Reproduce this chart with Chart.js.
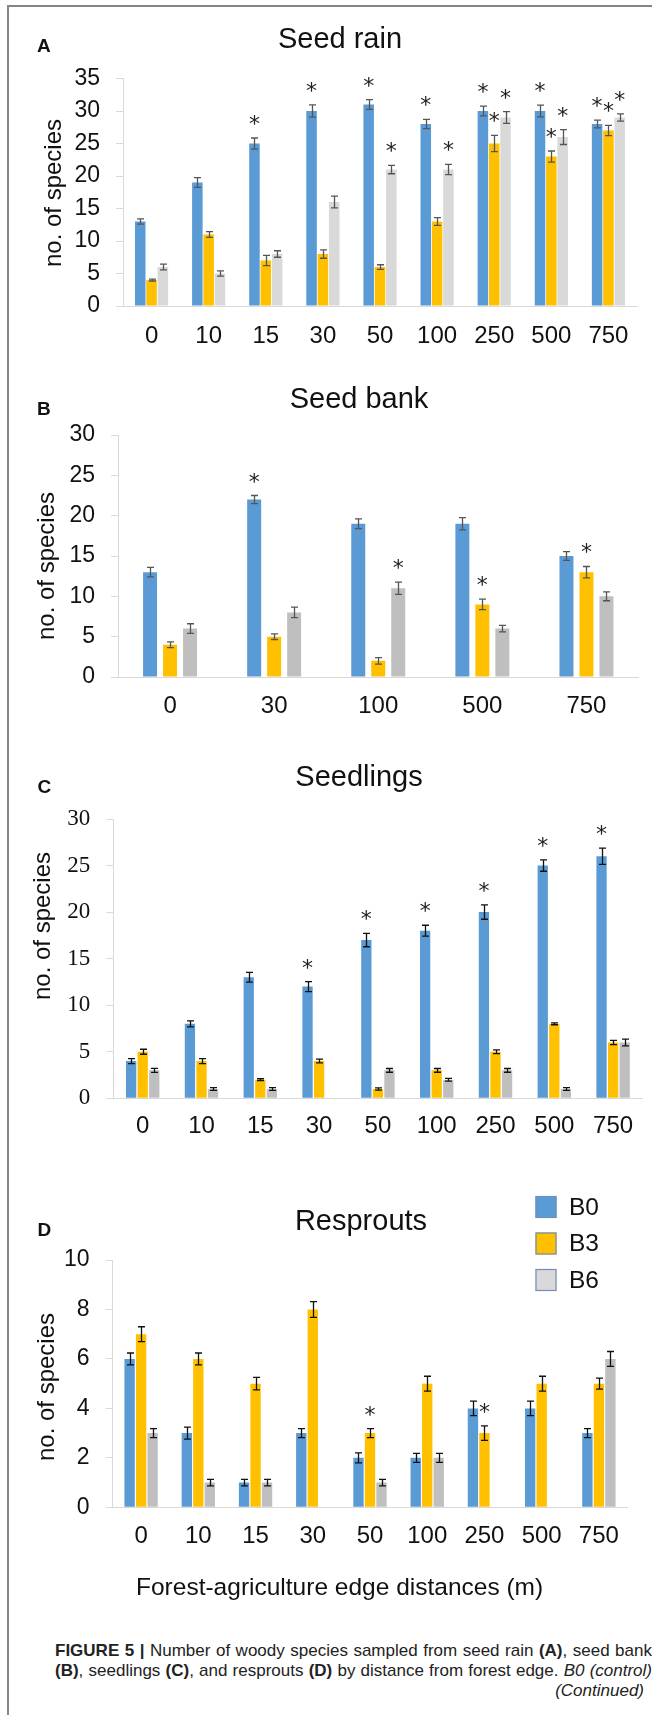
<!DOCTYPE html>
<html>
<head>
<meta charset="utf-8">
<script src="https://cdn.jsdelivr.net/npm/chart.js@4.4.1/dist/chart.umd.min.js"></script>
<style>
  body { margin: 0; background: #fff; width: 652px; height: 1715px; position: relative; overflow: hidden; }
  canvas { position: absolute; left: 0; }
  .frame-top { position: absolute; left: 7px; top: 5px; width: 645px; height: 2px; background: #858585; }
  .frame-left { position: absolute; left: 7px; top: 5px; width: 2px; height: 1710px; background: #858585; }
  .cap { position: absolute; left: 55px; width: 597px; font-family: "Liberation Sans", Arial, sans-serif;
         font-size: 17px; line-height: 20px; color: #222; text-align: justify; text-align-last: justify; }
  .cap.last { text-align: right; text-align-last: right; width: 589px; }
</style>
</head>
<body>
<div class="frame-top"></div>
<div class="frame-left"></div>
<canvas id="rain" width="652" height="360" style="top:0px"></canvas>
<canvas id="bank" width="652" height="385" style="top:360px"></canvas>
<canvas id="seedlings" width="652" height="410" style="top:745px"></canvas>
<canvas id="resprouts" width="652" height="460" style="top:1155px"></canvas>

<div class="cap" style="top:1641px"><b>FIGURE 5 |</b> Number of woody species sampled from seed rain <b>(A)</b>, seed bank</div>
<div class="cap" style="top:1661px"><b>(B)</b>, seedlings <b>(C)</b>, and resprouts <b>(D)</b> by distance from forest edge. <i>B0 (control)</i></div>
<div class="cap last" style="top:1681px"><i>(Continued)</i></div>

<script>
// distances from the forest edge (m)
const distances9 = ['0', '10', '15', '30', '50', '100', '250', '500', '750'];
const distances5 = ['0', '30', '100', '500', '750'];
const treatments = ['B0', 'B3', 'B6'];

// A - seed rain
const rainB0 = [13, 19, 25, 30, 31, 28, 30, 30, 28];
const rainB3 = [4, 11, 7, 8, 6, 13, 25, 23, 27];
const rainB6 = [6, 5, 8, 16, 21, 21, 29, 26, 29];
const rainB0Err = [0.4, 0.75, 0.85, 0.95, 0.75, 0.7, 0.75, 0.9, 0.6];
const rainB3Err = [0.15, 0.45, 0.8, 0.65, 0.35, 0.6, 1.25, 0.85, 0.8];
const rainB6Err = [0.45, 0.4, 0.5, 0.9, 0.65, 0.8, 0.9, 1.15, 0.55];
const rainB0Sig = [0, 0, 1, 1, 1, 1, 1, 1, 1];
const rainB3Sig = [0, 0, 0, 0, 0, 0, 1, 1, 1];
const rainB6Sig = [0, 0, 0, 0, 1, 1, 1, 1, 1];

// B - seed bank
const bankB0 = [13, 22, 19, 19, 15];
const bankB3 = [4, 5, 2, 9, 13];
const bankB6 = [6, 8, 11, 6, 10];
const bankB0Err = [0.6, 0.5, 0.6, 0.75, 0.55];
const bankB3Err = [0.35, 0.35, 0.4, 0.65, 0.7];
const bankB6Err = [0.6, 0.65, 0.75, 0.4, 0.55];
const bankB0Sig = [0, 1, 0, 0, 0];
const bankB3Sig = [0, 0, 0, 1, 1];
const bankB6Sig = [0, 0, 1, 0, 0];

// C - seedlings
const seedlingB0 = [4, 8, 13, 12, 17, 18, 20, 25, 26];
const seedlingB3 = [5, 4, 2, 4, 1, 3, 5, 8, 6];
const seedlingB6 = [3, 1, 1, 0, 3, 2, 3, 1, 6];
const seedlingB0Err = [0.27, 0.32, 0.52, 0.54, 0.72, 0.59, 0.77, 0.61, 0.88];
const seedlingB3Err = [0.27, 0.27, 0.1, 0.2, 0.12, 0.2, 0.2, 0.1, 0.23];
const seedlingB6Err = [0.21, 0.15, 0.15, 0, 0.2, 0.15, 0.2, 0.15, 0.36];
const seedlingB0Sig = [0, 0, 0, 1, 1, 1, 1, 1, 1];
const seedlingB3Sig = [0, 0, 0, 0, 0, 0, 0, 0, 0];
const seedlingB6Sig = [0, 0, 0, 0, 0, 0, 0, 0, 0];

// D - resprouts
const resproutB0 = [6, 3, 1, 3, 2, 2, 4, 4, 3];
const resproutB3 = [7, 6, 5, 8, 3, 5, 3, 5, 5];
const resproutB6 = [3, 1, 1, 0, 1, 2, 0, 0, 6];
const resproutB0Err = [0.24, 0.24, 0.13, 0.18, 0.2, 0.18, 0.29, 0.29, 0.18];
const resproutB3Err = [0.3, 0.24, 0.25, 0.32, 0.18, 0.3, 0.29, 0.3, 0.22];
const resproutB6Err = [0.18, 0.13, 0.13, 0, 0.13, 0.18, 0, 0, 0.3];
const resproutB0Sig = [0, 0, 0, 0, 0, 0, 0, 0, 0];
const resproutB3Sig = [0, 0, 0, 0, 1, 0, 1, 0, 0];
const resproutB6Sig = [0, 0, 0, 0, 0, 0, 0, 0, 0];

const BLUE = '#5B9BD5';
const GOLD = '#FFC000';
const LIGHT_GREY = '#D9D9D9';
const GREY = '#BFBFBF';
const SANS = '"Liberation Sans", Arial, sans-serif';
const STAR_FONT = '22px "DejaVu Sans"';

// error bars + significance asterisks
function errorBars(color) {
  return {
    id: 'errorBars',
    afterDatasetsDraw(chart) {
      const ctx = chart.ctx;
      const ys = chart.scales.y;
      ctx.save();
      chart.data.datasets.forEach((ds, i) => {
        chart.getDatasetMeta(i).data.forEach((bar, j) => {
          const v = ds.data[j], e = ds.err[j];
          if (!v) return;
          const x = Math.round(bar.x) + 0.5;
          const yTop = ys.getPixelForValue(v + e);
          const yBot = ys.getPixelForValue(v - e);
          ctx.strokeStyle = color;
          ctx.lineWidth = 1.3;
          ctx.beginPath();
          ctx.moveTo(x, yTop); ctx.lineTo(x, yBot);
          ctx.moveTo(x - 3.5, yTop); ctx.lineTo(x + 3.5, yTop);
          ctx.moveTo(x - 3.5, yBot); ctx.lineTo(x + 3.5, yBot);
          ctx.stroke();
          if (ds.sig[j]) {
            ctx.font = STAR_FONT;
            ctx.fillStyle = '#222';
            ctx.textAlign = 'center';
            ctx.textBaseline = 'alphabetic';
            const m = ctx.measureText('*');
            const cy = yTop - 18;
            ctx.fillText('*', bar.x, cy + (m.actualBoundingBoxAscent - m.actualBoundingBoxDescent) / 2);
          }
        });
      });
      ctx.restore();
    }
  };
}

// free text (titles, panel letters, axis titles) at page coordinates
function panelText(items, canvasTop, legend) {
  return {
    id: 'panelText',
    afterDraw(chart) {
      const ctx = chart.ctx;
      items.forEach(t => {
        ctx.save();
        ctx.font = t.font;
        ctx.fillStyle = t.color || '#111';
        ctx.textAlign = t.align || 'center';
        ctx.textBaseline = t.baseline || 'alphabetic';
        ctx.translate(t.x, t.y - canvasTop);
        if (t.rotate) ctx.rotate(t.rotate);
        ctx.fillText(t.text, 0, 0);
        ctx.restore();
      });
      if (legend) {
        chart.data.datasets.forEach((ds, i) => {
          const cy = legend.rows[i] - canvasTop;
          ctx.save();
          ctx.fillStyle = ds.legendColor || ds.backgroundColor;
          ctx.fillRect(legend.x, cy - 11, 21, 22);
          ctx.strokeStyle = '#6F8FB5';
          ctx.lineWidth = 1.2;
          ctx.strokeRect(legend.x + 0.5, cy - 10.5, 20, 21);
          ctx.font = '24.5px ' + SANS;
          ctx.fillStyle = '#111';
          ctx.textAlign = 'left';
          ctx.textBaseline = 'middle';
          ctx.fillText(ds.label, legend.x + 33.5, cy + 1);
          ctx.restore();
        });
      }
    }
  };
}

function makePanel(id, p) {
  const canvas = document.getElementById(id);
  const H = canvas.height;
  const top = p.canvasTop;
  const colors = [BLUE, GOLD, p.grey];
  const datasets = p.series.map((s, i) => ({
    label: treatments[i],
    data: s[0],
    err: s[1],
    sig: s[2],
    backgroundColor: colors[i],
    legendColor: i === 2 ? LIGHT_GREY : colors[i],
    borderWidth: 0,
    categoryPercentage: p.catPct,
    barPercentage: p.barPct
  }));
  return new Chart(canvas, {
    type: 'bar',
    data: { labels: p.labels, datasets },
    options: {
      responsive: false,
      animation: false,
      layout: { padding: { top: p.plot.top - top, right: 652 - p.plot.right, left: 0, bottom: 0 } },
      plugins: { legend: { display: false }, tooltip: { enabled: false } },
      scales: {
        x: {
          grid: { display: false, drawTicks: false },
          border: { display: true, color: '#D9D9D9', width: 1 },
          ticks: {
            color: '#111', padding: p.xPad, maxRotation: 0, autoSkip: false,
            font: { family: SANS, size: 24 }
          },
          afterFit: s => { s.height = H - (p.plot.bottom - top); }
        },
        y: {
          min: 0, max: p.yMax,
          ticks: {
            stepSize: p.step, padding: 16, color: '#111',
            font: { family: p.yFamily || SANS, size: p.yFont }
          },
          grid: { drawOnChartArea: false, drawTicks: true, tickLength: 7, color: '#D9D9D9' },
          border: { display: true, color: '#D9D9D9', width: 1 },
          afterFit: s => { s.width = p.plot.left; }
        }
      }
    },
    plugins: [errorBars(p.errColor), panelText(p.text, top, p.legend)]
  });
}

function labels(letter, lx, ly, title, tx, ty, yx, yy) {
  return [
    { text: letter, x: lx, y: ly, font: 'bold 19px ' + SANS, align: 'left' },
    { text: title, x: tx, y: ty, font: '29px ' + SANS },
    { text: 'no. of species', x: yx, y: yy, font: '24px ' + SANS, baseline: 'middle', rotate: -Math.PI / 2 }
  ];
}

makePanel('rain', {
  canvasTop: 0, labels: distances9,
  series: [[rainB0, rainB0Err, rainB0Sig], [rainB3, rainB3Err, rainB3Sig], [rainB6, rainB6Err, rainB6Sig]],
  grey: LIGHT_GREY, errColor: '#555',
  plot: { left: 123, right: 637, top: 78.5, bottom: 306 },
  yMax: 35, step: 5, yFont: 23, xPad: 15.6,
  catPct: 0.595, barPct: 0.93,
  text: labels('A', 37, 52, 'Seed rain', 340, 48, 54, 193)
});

makePanel('bank', {
  canvasTop: 360, labels: distances5,
  series: [[bankB0, bankB0Err, bankB0Sig], [bankB3, bankB3Err, bankB3Sig], [bankB6, bankB6Err, bankB6Sig]],
  grey: GREY, errColor: '#555',
  plot: { left: 118, right: 638.5, top: 435, bottom: 677 },
  yMax: 30, step: 5, yFont: 23, xPad: 15.3,
  catPct: 0.576, barPct: 0.7,
  text: labels('B', 37, 415, 'Seed bank', 359, 408, 47, 566)
});

makePanel('seedlings', {
  canvasTop: 745, labels: distances9,
  series: [[seedlingB0, seedlingB0Err, seedlingB0Sig], [seedlingB3, seedlingB3Err, seedlingB3Sig], [seedlingB6, seedlingB6Err, seedlingB6Sig]],
  grey: GREY, errColor: '#111',
  plot: { left: 113.3, right: 642.5, top: 819, bottom: 1098.3 },
  yMax: 30, step: 5, yFont: 23, yFamily: '"Liberation Serif", "Times New Roman", serif', xPad: 14,
  catPct: 0.59, barPct: 0.89,
  text: labels('C', 37.5, 793, 'Seedlings', 359, 786, 43, 926)
});

makePanel('resprouts', {
  canvasTop: 1155, labels: distances9,
  series: [[resproutB0, resproutB0Err, resproutB0Sig], [resproutB3, resproutB3Err, resproutB3Sig], [resproutB6, resproutB6Err, resproutB6Sig]],
  grey: GREY, errColor: '#111',
  plot: { left: 112.5, right: 627.5, top: 1260, bottom: 1507.3 },
  yMax: 10, step: 2, yFont: 23, xPad: 15,
  catPct: 0.603, barPct: 0.9,
  legend: { x: 535.5, rows: [1207, 1243.5, 1280] },
  text: labels('D', 37.5, 1236, 'Resprouts', 361, 1230, 47, 1387).concat([
    { text: 'Forest-agriculture edge distances (m)', x: 339.6, y: 1588, font: '24.5px ' + SANS, baseline: 'middle' }
  ])
});
</script>
</body>
</html>
